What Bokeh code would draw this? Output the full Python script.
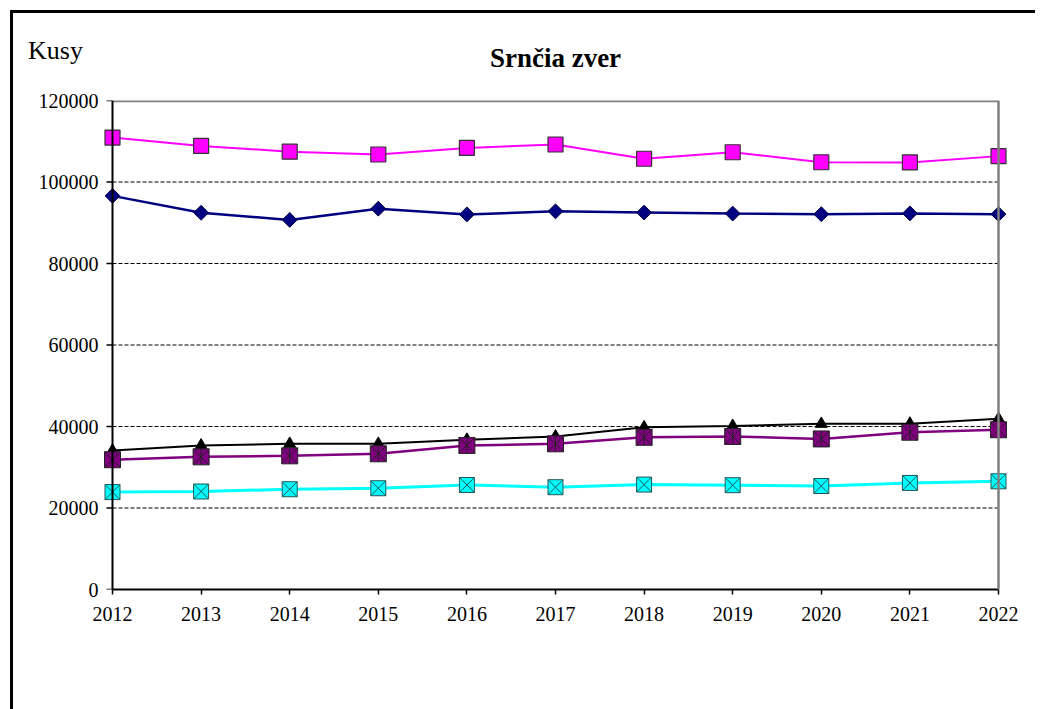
import numpy as np
from bokeh.plotting import figure
from bokeh.models import (Range1d, FixedTicker, BasicTickFormatter, Legend, LegendItem, Span, LinearAxis)
from bokeh.embed import file_html
from bokeh.resources import INLINE

years = [2012, 2013, 2014, 2015, 2016, 2017, 2018, 2019, 2020, 2021, 2022]
nks = [96600, 92450, 90700, 93450, 92050, 92800, 92500, 92250, 92100, 92300, 92100]
jks = [110900, 108850, 107450, 106750, 108350, 109200, 105700, 107300, 104850, 104800, 106350]
plan_lovu = [34100, 35350, 35750, 35750, 36750, 37550, 39800, 40150, 40650, 40700, 41900]
odstrel = [23900, 24050, 24600, 24850, 25650, 25100, 25750, 25600, 25400, 26150, 26550]
ubytok = [31850, 32550, 32800, 33300, 35350, 35750, 37350, 37550, 36950, 38600, 39200]

title_text = "Srnčia zver"
y_label = "Kusy"
series_names = ["NKS", "JKS", "Plán lovu", "Odstrel", "Úbytok spolu"]
y_ticks = [0, 20000, 40000, 60000, 80000, 100000, 120000]

FONT = "Liberation Serif"
PAD = 0.1016  # small x padding so edge markers are not clipped

p = figure(frame_width=904, frame_height=489, title=None,
           min_border_left=90, min_border_right=28, min_border_top=87, min_border_bottom=112,
           x_range=Range1d(years[0] - PAD, years[-1] + PAD), y_range=Range1d(y_ticks[0], y_ticks[-1]),
           output_backend="svg", toolbar_location=None,
           background_fill_color="white", border_fill_color=None)
# page frame lines (left and top) drawn as CSS backgrounds; the figure is lifted so the
# plot area starts where it does in the reference
p.styles = {"margin-left": "10px", "margin-top": "-471px", "padding-left": "3px",
            "background-image": "linear-gradient(black, black), linear-gradient(black, black)",
            "background-size": "100% 3px, 3px 100%",
            "background-position": "0 481px, 0 481px",
            "background-repeat": "no-repeat"}

p.outline_line_color = None
p.xgrid.grid_line_color = None
p.ygrid.grid_line_color = None

# dashed horizontal grid lines between the first and last year
gy = y_ticks[1:-1]
p.segment(x0=[years[0]] * len(gy), y0=gy, x1=[years[-1]] * len(gy), y1=gy,
          line_color="black", line_dash="4 2", line_width=1)
# gray plot-area border (top and right)
p.segment(x0=[years[0]], y0=[y_ticks[-1]], x1=[years[-1]], y1=[y_ticks[-1]],
          line_color="#808080", line_width=3.5)
p.add_layout(Span(location=years[-1], dimension="height", line_color="#808080", line_width=2.5))
# value axis line at the first year, with outward ticks
p.add_layout(Span(location=years[0], dimension="height", line_color="black", line_width=2))
p.ray(x=[years[0]] * len(y_ticks), y=y_ticks, length=6, length_units="screen", angle=np.pi,
      line_color="black", line_width=1.5)

xa = p.below[0]
xa.axis_line_color = "black"
xa.axis_line_width = 2
xa.major_tick_line_color = "black"
xa.major_tick_line_width = 1.5
xa.major_tick_out = 5
xa.major_tick_in = 0
xa.minor_tick_line_color = None
xa.ticker = FixedTicker(ticks=years)
xa.bounds = (years[0], years[-1])
xa.major_label_standoff = 12

ya = p.left[0]
ya.axis_line_color = None
ya.major_tick_line_color = None
ya.minor_tick_line_color = None
ya.major_tick_out = 0
ya.major_tick_in = 0
ya.ticker = FixedTicker(ticks=y_ticks)
ya.formatter = BasicTickFormatter(use_scientific=False)
ya.major_label_standoff = 5

for ax in (xa, ya):
    ax.major_label_text_font = FONT
    ax.major_label_text_font_size = "20px"
    ax.major_label_text_color = "black"

# chart title, shown as the label of a bare axis above the plot area
title_axis = LinearAxis(ticker=FixedTicker(ticks=[]), axis_label=title_text, axis_label_standoff=28,
                        axis_label_text_font=FONT, axis_label_text_font_size="27px",
                        axis_label_text_font_style="bold", axis_label_text_color="black",
                        axis_line_color=None, major_tick_line_color=None, minor_tick_line_color=None,
                        major_tick_out=0, major_tick_in=0, major_label_standoff=0)
p.add_layout(title_axis, "above")

# NKS
l1 = p.line(years, nks, line_color="#000080", line_width=2.5)
m1 = p.scatter(years, nks, marker="square", angle=np.pi / 4, size=10.5,
               fill_color="#000080", line_color="#000040", line_width=1)
# JKS
l2 = p.line(years, jks, line_color="#FF00FF", line_width=2)
m2 = p.scatter(years, jks, marker="square", size=15, fill_color="#FF00FF",
               line_color="#333333", line_width=1.2)
# Plan lovu
l3 = p.line(years, plan_lovu, line_color="black", line_width=2)
m3 = p.scatter(years, plan_lovu, marker="triangle", size=12, fill_color="black",
               line_color="black")
# Ubytok spolu
l5 = p.line(years, ubytok, line_color="#800080", line_width=2.5)
m5 = p.scatter(years, ubytok, marker="square_x", size=16, fill_color="#800080",
               line_color="#222222", line_width=1)
m5b = p.scatter(years, ubytok, marker="dash", angle=np.pi / 2, size=16,
                line_color="#222222", line_width=1)
# Odstrel
l4 = p.line(years, odstrel, line_color="#00FFFF", line_width=3)
m4 = p.scatter(years, odstrel, marker="square_x", size=15, fill_color="#00FFFF",
               line_color="#225555", line_width=1)

# unit label "Kusy" in the top-left corner (a glyph-less legend entry above the plot)
kusy = Legend(items=[LegendItem(label=y_label, renderers=[l3])],
              orientation="horizontal", location=(-75, -27))
kusy.label_text_font = FONT
kusy.label_text_font_size = "26px"
kusy.label_text_color = "black"
kusy.glyph_width = 0
kusy.glyph_height = 1
kusy.label_standoff = 0
kusy.padding = 0
kusy.margin = 5
kusy.border_line_color = None
kusy.background_fill_alpha = 0
p.add_layout(kusy, "above")

legend = Legend(items=[
    LegendItem(label=series_names[0], renderers=[l1, m1]),
    LegendItem(label=series_names[1], renderers=[l2, m2]),
    LegendItem(label=series_names[2], renderers=[l3, m3]),
    LegendItem(label=series_names[3], renderers=[l4, m4]),
    LegendItem(label=series_names[4], renderers=[l5, m5, m5b]),
], orientation="horizontal", location="top_center")
legend.label_text_font = FONT
legend.label_text_font_size = "18.5px"
legend.label_text_color = "black"
legend.glyph_width = 51
legend.glyph_height = 20
legend.label_standoff = 6
legend.spacing = 22
legend.padding = 5
legend.margin = 39
legend.border_line_color = None
legend.background_fill_alpha = 0
p.add_layout(legend, "below")

open("out.html", "w").write(file_html(p, INLINE))
